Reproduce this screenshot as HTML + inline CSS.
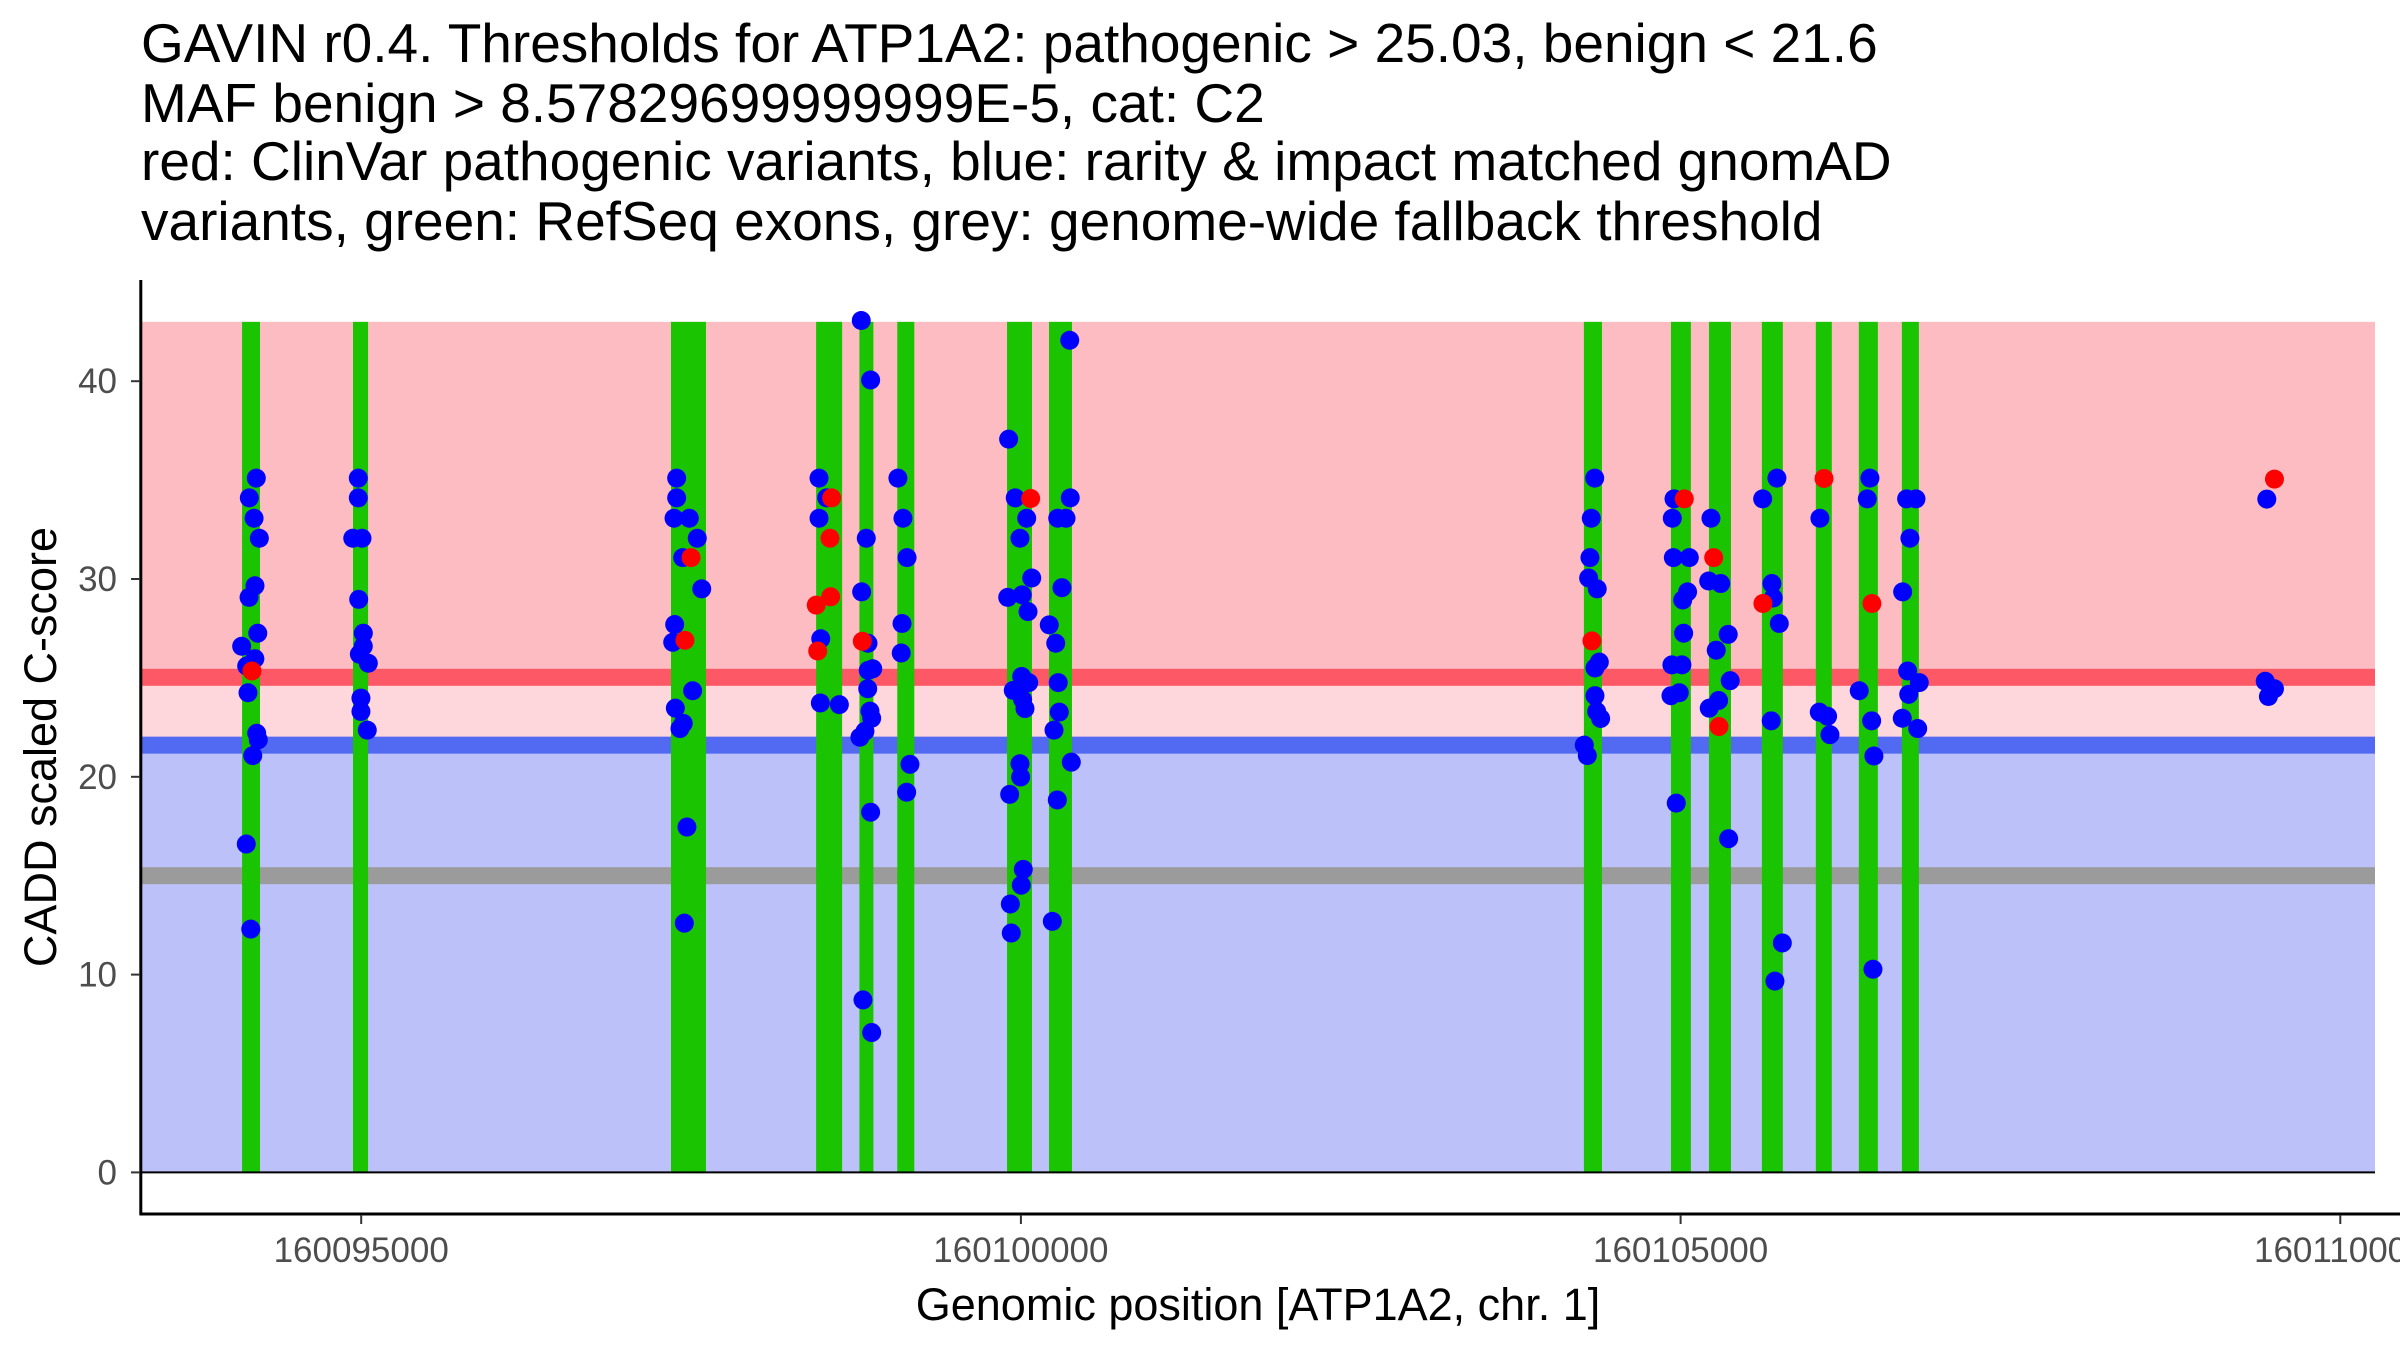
<!DOCTYPE html>
<html><head><meta charset="utf-8"><style>
html,body{margin:0;padding:0;background:#fff;}
svg{display:block;font-family:"Liberation Sans",Arial,sans-serif;}
</style></head><body>
<svg id="chart" width="2400" height="1350" viewBox="0 0 2400 1350" xmlns="http://www.w3.org/2000/svg">
<g font-size="55" fill="#000">
<text x="141" y="62">GAVIN r0.4. Thresholds for ATP1A2: pathogenic &gt; 25.03, benign &lt; 21.6</text>
<text x="141" y="122">MAF benign &gt; 8.57829699999999E-5, cat: C2</text>
<text x="141" y="180">red: ClinVar pathogenic variants, blue: rarity &amp; impact matched gnomAD</text>
<text x="141" y="240">variants, green: RefSeq exons, grey: genome-wide fallback threshold</text>
</g>
<g id="plot"></g>
<text x="1258" y="1320" font-size="45" text-anchor="middle" fill="#000">Genomic position [ATP1A2, chr. 1]</text>
<text transform="translate(56,747) rotate(-90)" font-size="45" text-anchor="middle" fill="#000">CADD scaled C-score</text>
</svg>
<script>
const B = 160095000;
const exonStarts = [-903,-62,2348,3448,3776,4063,4895,5213,9267,9927,10215,10616,11025,11351,11677];
const exonEnds = [-767,52,2613,3645,3882,4192,5084,5387,9404,10078,10382,10775,11146,11495,11806];
const benignPos = [-795,-848,-812,-772,-805,-850,-784,-906,-806,-868,-858,-792,-780,-822,-871,-837,
-22,-22,-64,6,-19,16,16,-14,54,-2,-2,46,
2391,2391,2371,2487,2547,2437,2581,2376,2361,2512,2381,2441,2416,2469,2449,
3790,3861,5370,4907,3470,4068,3528,4957,5374,3470,4106,5044,5279,5342,3828,4993,4137,5082,5311,3793,4900,5010,5054,5215,4099,5264,3483,3841,4093,3843,3877,5006,5059,4942,5283,3839,3480,3624,5013,5031,5291,3856,3869,5251,3818,3780,4159,5382,4993,4998,4134,4915,5276,3861,5018,5003,4920,5238,4927,3803,3869,
9349,9323,9313,9303,9368,9384,9351,9351,9364,9394,9270,9293,
9950,9937,9945,10066,10053,10016,10023,9934,10010,9927,9990,9967,
10230,10213,10304,10361,10270,10376,10288,10217,10364,
10730,10622,10692,10702,10748,10687,10771,10715,
11056,11051,11114,11132,
11435,11415,11354,11448,11465,11458,
11713,11784,11738,11683,11721,11809,11729,11680,11797,
14443,14431,14455,14501];
const benignScore = [35.1,34.1,33.07,32.06,29.66,29.07,27.26,26.6,25.97,25.6,24.25,22.2,21.87,21.07,16.6,12.3,
35.1,34.1,32.06,32.06,28.97,27.26,26.6,26.2,25.74,23.98,23.3,22.36,
35.1,34.1,33.07,33.07,32.06,31.08,29.5,27.7,26.8,24.35,23.47,22.7,22.44,17.46,12.6,
43.07,40.06,42.07,37.07,35.1,35.1,34.1,34.1,34.1,33.07,33.07,33.07,33.07,33.07,32.06,32.06,31.08,30.05,29.56,29.35,29.07,29.2,28.35,27.68,27.75,26.75,26.98,26.75,26.26,25.38,25.46,25.07,24.76,24.37,24.76,24.45,23.73,23.65,23.9,23.45,23.27,23.32,22.96,22.36,22.3,22.0,20.63,20.74,20.66,19.99,19.22,19.11,18.83,18.21,15.32,14.52,13.57,12.69,12.1,8.72,7.07,
35.1,33.07,31.08,30.05,29.5,25.8,25.5,24.1,23.3,22.95,21.6,21.07,
34.05,33.07,31.08,31.08,29.35,28.94,27.26,25.66,25.66,24.1,24.25,18.67,
33.07,29.9,29.77,27.2,26.4,24.86,23.86,23.47,16.87,
35.1,34.05,29.77,29.04,27.75,22.83,11.6,9.67,
33.07,23.27,23.06,22.13,
35.1,34.05,24.35,22.83,21.05,10.27,
34.05,34.05,32.06,29.35,25.35,24.76,24.17,22.96,22.44,
34.04,24.83,24.06,24.45];
const pathoPos = [-828,2500,2454,3566,3553,3558,3449,3460,3798,5074,9328,10028,10251,10291,10624,11087,11450,14501];
const pathoScore = [25.35,31.08,26.9,34.1,32.06,29.1,28.68,26.36,26.85,34.07,26.87,34.05,31.08,22.54,28.76,35.08,28.76,35.05];
const yTicks = [0,10,20,30,40];
const xTicks = [160095000,160100000,160105000,160110000];
const thresholds = {patho:25.03, benign:21.6, fallback:15, max:43};

const NS='http://www.w3.org/2000/svg';
const plot=document.getElementById('plot');
function xs(v){return 361.2+(v-160095000)*0.13194;}
function ys(s){return 1172.4-s*19.78;}
function mk(tag,attrs,parent){const e=document.createElementNS(NS,tag);for(const k in attrs)e.setAttribute(k,attrs[k]);(parent||plot).appendChild(e);return e;}
const X0=142, X1=2375;
let r;
r=mk('rect',{x:X0,y:ys(thresholds.max),width:X1-X0,height:ys(thresholds.patho)-ys(thresholds.max),fill:'#fcbcc2'});


r=mk('rect',{x:X0,y:ys(thresholds.patho),width:X1-X0,height:ys(thresholds.benign)-ys(thresholds.patho),fill:'#fed7dc'});


r=mk('rect',{x:X0,y:ys(thresholds.benign),width:X1-X0,height:ys(0)-ys(thresholds.benign),fill:'#bcc1f9'});


r=mk('rect',{x:X0,y:ys(thresholds.patho)-8.5,width:X1-X0,height:17,fill:'#fc5865'});


r=mk('rect',{x:X0,y:ys(thresholds.benign)-8.5,width:X1-X0,height:17,fill:'#5269f1'});


r=mk('rect',{x:X0,y:ys(thresholds.fallback)-8.5,width:X1-X0,height:17,fill:'#9b9b9b'});


for(let i=0;i<exonStarts.length;i++){
  const a=xs(B+exonStarts[i]), b=xs(B+exonEnds[i]);
  const e=mk('rect',{x:a,y:ys(thresholds.max),width:Math.max(b-a,1),height:ys(0)-ys(thresholds.max),fill:'#1ac400'});
  
  
}
for(let i=0;i<benignPos.length;i++){
  const c=mk('circle',{cx:xs(B+benignPos[i]),cy:ys(benignScore[i]),r:9.5,fill:'#0000ff'});
  
  
}
for(let i=0;i<pathoPos.length;i++){
  const c=mk('circle',{cx:xs(B+pathoPos[i]),cy:ys(pathoScore[i]),r:9.5,fill:'#ff0000'});
  
  
}
let l=mk('line',{x1:140.8,y1:ys(0),x2:X1,y2:ys(0),stroke:'#000','stroke-width':2});


l=mk('line',{x1:140.8,y1:280,x2:140.8,y2:1215,stroke:'#000','stroke-width':3});


l=mk('line',{x1:139.5,y1:1214,x2:2400,y2:1214,stroke:'#000','stroke-width':3});


for(const t of yTicks){
  const tk=mk('line',{x1:131,y1:ys(t),x2:140,y2:ys(t),stroke:'#333','stroke-width':2});
  
  
  const tx=mk('text',{x:117,y:ys(t)+12,'font-size':35,'text-anchor':'end',fill:'#4d4d4d'});
  tx.textContent=t;
  
  
}
for(const t of xTicks){
  const tk=mk('line',{x1:xs(t),y1:1215,x2:xs(t),y2:1224,stroke:'#333','stroke-width':2});
  
  
  const tx=mk('text',{x:xs(t),y:1262,'font-size':35,'text-anchor':'middle',fill:'#4d4d4d'});
  tx.textContent=t;
  
  
}
</script>
</body></html>
